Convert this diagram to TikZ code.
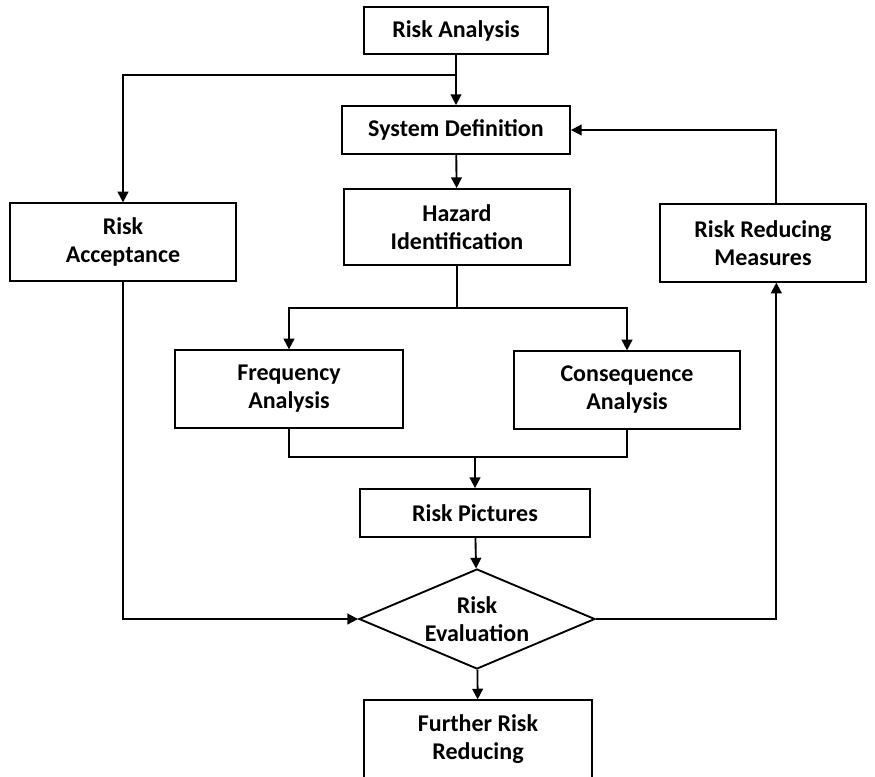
\documentclass[tikz,border=0pt]{standalone}
\usepackage{fontspec}
\setmainfont{Carlito}
\usetikzlibrary{positioning,arrows.meta,calc,shapes.geometric}

\begin{document}
\begin{tikzpicture}[x=0.75pt, y=-0.75pt,
          font=\bfseries\fontsize{18}{21}\selectfont,
          box/.style={draw, line width=1.4pt, align=center, inner sep=2pt},
          decision/.style={draw, diamond, aspect=2.36, line width=1.4pt, align=center,
                      inner sep=0pt, minimum width=177pt, minimum height=75pt},
          arr/.style={line width=1.4pt, -{Triangle[length=8pt, width=8pt]}},
          link/.style={line width=1.4pt}]
        \useasboundingbox (0,0) rectangle (875,776);
        \clip (0,0) rectangle (875,776);

        \node[box, minimum width=138pt, minimum height=35pt] (ra) at (456,30.5) {Risk Analysis};
        \node[box, minimum width=171pt, minimum height=36pt] (sd) at (456,130) {System Definition};
        \node[box, minimum width=170pt, minimum height=57pt] (hz) at (457,227) {Hazard\\Identification};
        \node[box, minimum width=170pt, minimum height=58pt] (acc) at (123,242) {Risk\\Acceptance};
        \node[box, minimum width=154pt, minimum height=58pt] (rrm) at (763,243) {Risk Reducing\\Measures};
        \node[box, minimum width=171pt, minimum height=58pt] (fa) at (289,389) {Frequency\\Analysis};
        \node[box, minimum width=170pt, minimum height=58pt] (ca) at (627,390) {Consequence\\Analysis};
        \node[box, minimum width=172pt, minimum height=36pt] (rp) at (475,513) {Risk Pictures};
        \node[decision] (re) at (477,619) {Risk\\Evaluation};
        \node[box, minimum width=171pt, minimum height=58pt] (fr) at (478,739) {Further Risk\\Reducing};

        % joints
        \coordinate (j1) at (456,75);
        \coordinate (j2) at (457,308);
        \coordinate (j3) at (475,457);

        \draw[arr] (ra) -- (sd);
        \draw[arr] (j1) -| (acc.north);
        \draw[arr] (sd) -- (hz);
        \draw[link] (hz.south) -- (j2);
        \draw[arr] (j2) -| (fa.north);
        \draw[arr] (j2) -| (ca.north);
        \draw[link] (fa.south) |- (j3) -| (ca.south);
        \draw[arr] (j3) -- (rp.north);
        \draw[arr] (rp) -- (re);
        \draw[arr] (re) -- (fr);
        \draw[arr] (acc.south) |- (re.west);
        \draw[arr] (re.east) -| ([xshift=10pt]rrm.south);
        \draw[arr] ([xshift=10pt]rrm.north) |- (sd.east);
      \end{tikzpicture}
\end{document}
